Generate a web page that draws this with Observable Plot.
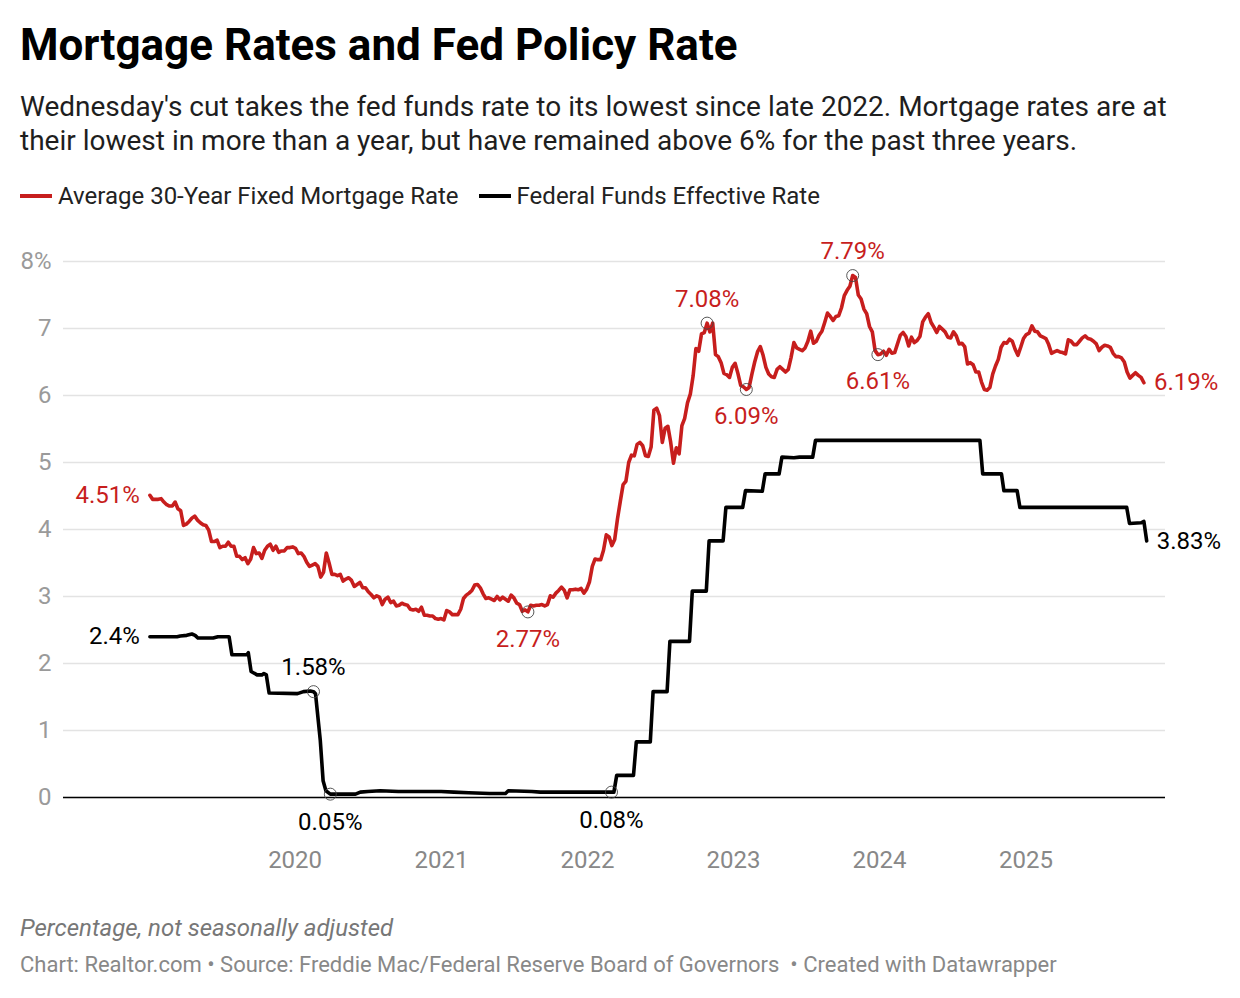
<!DOCTYPE html>
<html><head><meta charset="utf-8">
<script src="https://cdn.jsdelivr.net/npm/d3@7"></script>
<script src="https://cdn.jsdelivr.net/npm/@observablehq/plot@0.6"></script>
<style>
body{margin:0;background:#fff;font-family:Roboto,sans-serif;width:1240px;height:998px;position:relative;overflow:hidden}
.blk{position:absolute;left:20px;white-space:nowrap}
#title{top:20px;font-weight:700;font-size:44px;line-height:50px;color:#000}
#subtitle{top:90px;font-size:28px;line-height:34px;color:#1e1e1e}
#legend{top:181px;font-size:24px;line-height:30px;color:#222;display:flex;align-items:center}
.sw{display:inline-block;width:32px;height:4px;margin-right:6px}
.item{display:flex;align-items:center;margin-right:20px}
#note{top:913px;font-size:24px;line-height:30px;color:#777;font-style:italic}
#source{top:950px;font-size:22px;line-height:30px;color:#888}
#chart{position:absolute;left:0;top:215px}
</style></head><body>
<div id="title" class="blk">Mortgage Rates and Fed Policy Rate</div>
<div id="subtitle" class="blk">Wednesday's cut takes the fed funds rate to its lowest since late 2022. Mortgage rates are at<br>their lowest in more than a year, but have remained above 6% for the past three years.</div>
<div id="legend" class="blk"></div>
<div id="chart"></div>
<div id="note" class="blk">Percentage, not seasonally adjusted</div>
<div id="source" class="blk">Chart: Realtor.com • Source: Freddie Mac/Federal Reserve Board of Governors &nbsp;• Created with Datawrapper</div>
<script>
// ---- Data ----
const seriesNames = ["Average 30-Year Fixed Mortgage Rate", "Federal Funds Effective Rate"];
const seriesColors = ["#c71e1d", "#000000"];

// Weekly 30-year fixed mortgage rate, starting 2019-01-03
const mortgageStart = "2019-01-03";
const mortgage2019 = [4.51,4.45,4.45,4.45,4.46,4.41,4.37,4.35,4.35,4.41,4.31,4.28,4.06,4.08,4.12,4.17,4.20,4.14,4.10,4.07,4.06,3.99,3.82,3.82,3.84,3.73,3.75,3.75,3.81,3.75,3.75,3.60,3.60,3.55,3.58,3.49,3.56,3.73,3.64,3.65,3.57,3.69,3.75,3.78,3.69,3.75,3.66,3.68,3.68,3.73,3.73,3.74];
const mortgage2020 = [3.72,3.64,3.65,3.60,3.51,3.45,3.47,3.49,3.45,3.29,3.36,3.65,3.50,3.33,3.33,3.31,3.33,3.23,3.26,3.28,3.24,3.15,3.18,3.21,3.13,3.13,3.07,3.03,2.98,3.01,2.99,2.88,2.96,2.99,2.91,2.93,2.86,2.87,2.90,2.88,2.87,2.81,2.80,2.81,2.78,2.84,2.72,2.72,2.71,2.71,2.67,2.66,2.67];
const mortgage2021 = [2.65,2.79,2.77,2.73,2.73,2.73,2.81,2.97,3.02,3.05,3.09,3.17,3.18,3.13,3.04,2.97,2.98,2.96,2.94,3.00,2.95,2.99,2.96,2.93,3.02,2.98,2.90,2.88,2.78,2.80,2.77,2.87,2.86,2.87,2.87,2.88,2.86,2.88,3.01,2.99,3.05,3.09,3.14,3.09,2.98,3.10,3.10,3.11,3.10,3.12,3.05,3.11];
const mortgage2022 = [3.22,3.45,3.56,3.55,3.55,3.69,3.92,3.89,3.76,3.85,4.16,4.42,4.67,4.72,5.00,5.11,5.10,5.27,5.30,5.25,5.10,5.09,5.23,5.78,5.81,5.70,5.30,5.51,5.54,5.30,4.99,5.22,5.13,5.55,5.66,5.89,6.02,6.29,6.70,6.66,6.92,6.94,7.08,6.95,7.08,6.61,6.58,6.49,6.33,6.31,6.27,6.42];
const mortgage2023 = [6.48,6.33,6.15,6.13,6.09,6.12,6.32,6.50,6.65,6.73,6.60,6.42,6.32,6.28,6.27,6.39,6.43,6.39,6.35,6.39,6.57,6.79,6.71,6.69,6.67,6.71,6.81,6.96,6.78,6.81,6.90,6.96,7.09,7.23,7.18,7.12,7.18,7.19,7.31,7.49,7.57,7.63,7.79,7.76,7.50,7.44,7.29,7.22,7.03,6.95,6.67,6.61];
const mortgage2024 = [6.62,6.66,6.60,6.69,6.63,6.64,6.77,6.90,6.94,6.88,6.74,6.87,6.79,6.82,6.88,7.10,7.17,7.22,7.09,7.02,6.94,7.03,6.99,6.95,6.87,6.86,6.95,6.89,6.77,6.78,6.73,6.47,6.49,6.46,6.35,6.35,6.20,6.09,6.08,6.12,6.32,6.44,6.54,6.72,6.79,6.78,6.84,6.81,6.69,6.60,6.72,6.85];
const mortgage2025 = [6.91,6.93,7.04,6.96,6.95,6.89,6.87,6.85,6.76,6.63,6.65,6.67,6.65,6.64,6.62,6.83,6.81,6.76,6.76,6.81,6.86,6.89,6.85,6.84,6.81,6.77,6.67,6.72,6.75,6.74,6.72,6.63,6.58,6.58,6.56,6.50,6.35,6.26,6.30,6.34,6.30,6.27,6.19];

// Federal funds effective rate: dates and values
const ffDates = ["2019-01-03","2019-03-12","2019-03-20","2019-04-05","2019-04-18","2019-04-26","2019-05-03","2019-06-10","2019-06-22","2019-07-20","2019-07-27","2019-09-02","2019-09-06","2019-09-13","2019-09-28","2019-10-10","2019-10-15","2019-10-21","2019-10-28","2020-01-07","2020-01-22","2020-02-08","2020-02-16","2020-02-21","2020-03-04","2020-03-11","2020-03-18","2020-03-29","2020-05-31","2020-06-12","2020-07-01","2020-08-01","2020-09-15","2020-12-31","2021-02-01","2021-03-10","2021-05-01","2021-06-10","2021-06-17","2021-08-15","2021-09-05","2022-03-02","2022-03-08","2022-03-15","2022-04-26","2022-05-03","2022-06-07","2022-06-14","2022-07-19","2022-07-26","2022-09-13","2022-09-20","2022-10-25","2022-11-01","2022-12-06","2022-12-13","2023-01-24","2023-01-31","2023-03-14","2023-03-21","2023-04-25","2023-05-02","2023-06-01","2023-06-15","2023-07-18","2023-07-25","2024-09-08","2024-09-15","2024-11-01","2024-11-07","2024-12-10","2024-12-17","2025-09-10","2025-09-17","2025-10-16","2025-10-23","2025-10-30"];
const ffValues = [2.40,2.40,2.41,2.42,2.44,2.42,2.38,2.38,2.40,2.40,2.13,2.13,2.16,1.88,1.83,1.83,1.85,1.83,1.56,1.55,1.58,1.59,1.58,1.55,0.85,0.25,0.10,0.05,0.05,0.08,0.09,0.10,0.09,0.09,0.08,0.07,0.06,0.06,0.10,0.09,0.08,0.08,0.08,0.33,0.33,0.83,0.83,1.58,1.58,2.33,2.33,3.08,3.08,3.83,3.83,4.33,4.33,4.58,4.57,4.83,4.83,5.08,5.07,5.08,5.08,5.33,5.33,4.83,4.83,4.58,4.58,4.33,4.33,4.09,4.10,4.12,3.83];

// Highlighted points
const mortgageHighs = [["2022-10-27", 7.08], ["2023-10-26", 7.79]];
const mortgageLows = [["2021-08-05", 2.77], ["2023-02-02", 6.09], ["2023-12-28", 6.61]];
const ffHighs = [["2020-02-16", 1.58]];
const ffLows = [["2020-03-29", 0.05], ["2022-03-02", 0.08]];

const yTicks = [0,1,2,3,4,5,6,7,8];
const xTickYears = [2020,2021,2022,2023,2024,2025];

// ---- Build tables ----
const parse = d3.utcParse("%Y-%m-%d");
const mortgageValues = [].concat(mortgage2019, mortgage2020, mortgage2021, mortgage2022, mortgage2023, mortgage2024, mortgage2025);
const t0 = parse(mortgageStart);
const mortgage = mortgageValues.map((v, i) => ({date: d3.utcWeek.offset(t0, i), value: v}));
const ff = ffDates.map((d, i) => ({date: parse(d), value: ffValues[i]}));
const pts = arr => arr.map(([d, v]) => ({date: parse(d), value: v}));
const mHi = pts(mortgageHighs), mLo = pts(mortgageLows), fHi = pts(ffHighs), fLo = pts(ffLows);
const fmt = v => `${+v}%`;
const red = seriesColors[0], black = seriesColors[1];

// legend
const lg = document.getElementById("legend");
seriesNames.forEach((n, i) => {
  const it = document.createElement("span"); it.className = "item";
  it.innerHTML = `<span class="sw" style="background:${seriesColors[i]}"></span>${n}`;
  lg.appendChild(it);
});

const fs = 24;
const chart = Plot.plot({
  width: 1240, height: 662,
  marginLeft: 63, marginRight: 75, marginTop: 46, marginBottom: 80,
  style: {fontFamily: "Roboto, sans-serif", fontSize: fs + "px", background: "transparent", overflow: "visible"},
  x: {type: "utc", domain: [parse("2018-06-01"), parse("2025-12-16")]},
  y: {domain: [0, 8]},
  marks: [
    Plot.gridY(yTicks, {stroke: "#e3e3e3", strokeOpacity: 1, strokeWidth: 1.5}),
    Plot.axisY(yTicks, {tickSize: 0, tickPadding: 12, fill: "#9a9a9a", fontSize: fs, label: null, tickFormat: d => d === 8 ? "8%" : String(d)}),
    Plot.axisX(xTickYears.map(y => new Date(Date.UTC(y, 0, 1))), {tickSize: 0, tickPadding: 53, fill: "#888", fontSize: fs, tickFormat: d3.utcFormat("%Y"), label: null}),
    Plot.ruleY([0], {stroke: "#000", strokeWidth: 1.6}),
    Plot.line(ff, {x: "date", y: "value", stroke: black, strokeWidth: 3.6, strokeLinejoin: "round"}),
    Plot.line(mortgage, {x: "date", y: "value", stroke: red, strokeWidth: 3.6, strokeLinejoin: "round"}),
    Plot.dot([...mHi, ...mLo, ...fHi, ...fLo], {x: "date", y: "value", r: 6, stroke: "#444", strokeWidth: 0.9, fill: "none"}),
    Plot.text(mHi, {x: "date", y: "value", text: d => fmt(d.value), dy: -24, fill: red, fontSize: fs}),
    Plot.text(mLo, {x: "date", y: "value", text: d => fmt(d.value), dy: 27, fill: red, fontSize: fs}),
    Plot.text(fHi, {x: "date", y: "value", text: d => fmt(d.value), dy: -24, fill: black, fontSize: fs}),
    Plot.text(fLo, {x: "date", y: "value", text: d => fmt(d.value), dy: 28, fill: black, fontSize: fs}),
    Plot.text([mortgage[0]], {x: "date", y: "value", text: d => fmt(d.value), dx: -10, textAnchor: "end", fill: red, fontSize: fs}),
    Plot.text([ff[0]], {x: "date", y: "value", text: d => fmt(d.value), dx: -10, textAnchor: "end", fill: black, fontSize: fs}),
    Plot.text([mortgage[mortgage.length - 1]], {x: "date", y: "value", text: d => fmt(d.value), dx: 10, textAnchor: "start", fill: red, fontSize: fs}),
    Plot.text([ff[ff.length - 1]], {x: "date", y: "value", text: d => fmt(d.value), dx: 10, textAnchor: "start", fill: black, fontSize: fs})
  ]
});
document.getElementById("chart").appendChild(chart);
</script>
</body></html>
